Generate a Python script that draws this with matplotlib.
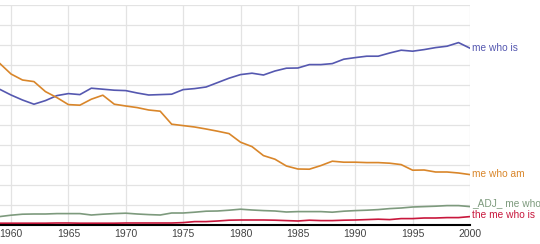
import numpy as np
import matplotlib.pyplot as plt

plt.rcParams['font.family'] = ['Liberation Sans', 'DejaVu Sans']

years = list(range(1959, 2001))

me_who_is = [6.79, 6.50, 6.25, 6.04, 6.22, 6.47, 6.57, 6.52, 6.84, 6.79,
             6.74, 6.72, 6.60, 6.50, 6.52, 6.54, 6.77, 6.82, 6.90, 7.12,
             7.34, 7.52, 7.59, 7.50, 7.70, 7.84, 7.85, 8.02, 8.02, 8.07,
             8.29, 8.37, 8.44, 8.44, 8.60, 8.74, 8.69, 8.77, 8.87, 8.94,
             9.12, 8.84]

me_who_am = [8.09, 7.55, 7.25, 7.17, 6.67, 6.37, 6.02, 5.99, 6.29, 6.49,
             6.04, 5.95, 5.87, 5.75, 5.69, 5.04, 4.97, 4.90, 4.80, 4.69,
             4.57, 4.14, 3.92, 3.47, 3.29, 2.95, 2.80, 2.79, 2.97, 3.19,
             3.14, 3.14, 3.12, 3.12, 3.09, 3.02, 2.74, 2.75, 2.65, 2.65,
             2.60, 2.52]

adj_me_who = [0.42, 0.49, 0.54, 0.55, 0.55, 0.57, 0.57, 0.57, 0.50, 0.54,
              0.57, 0.59, 0.55, 0.52, 0.50, 0.60, 0.60, 0.64, 0.69, 0.70,
              0.74, 0.79, 0.75, 0.72, 0.70, 0.65, 0.67, 0.67, 0.67, 0.64,
              0.69, 0.72, 0.74, 0.77, 0.82, 0.85, 0.90, 0.92, 0.94, 0.97,
              0.97, 0.92]

the_me_who_is = [0.09, 0.09, 0.09, 0.09, 0.09, 0.10, 0.10, 0.09, 0.09, 0.09,
                 0.09, 0.10, 0.10, 0.10, 0.10, 0.10, 0.12, 0.17, 0.17, 0.20,
                 0.24, 0.25, 0.25, 0.25, 0.24, 0.22, 0.20, 0.24, 0.22, 0.22,
                 0.24, 0.25, 0.27, 0.29, 0.27, 0.32, 0.32, 0.35, 0.35, 0.37,
                 0.37, 0.42]

series = [
    ("me who is", me_who_is, "#5558b0"),
    ("me who am", me_who_am, "#d9862a"),
    ("_ADJ_ me who", adj_me_who, "#7d9a7d"),
    ("the me who is", the_me_who_is, "#c8173c"),
]
label_shift = [0.5, 0.5, 2.5, 0.8]

fig = plt.figure(figsize=(5.4, 2.44), dpi=100)
ax = fig.add_axes([0.0, 1 - 225 / 244, 470 / 540, 220 / 244])

for (name, vals, col), dy in zip(series, label_shift):
    ax.plot(years, vals, color=col, lw=1.2, zorder=3)
    ax.annotate(name, xy=(years[-1], vals[-1]), xytext=(1.5, dy),
                textcoords="offset points", color=col, fontsize=7.3,
                va="center", ha="left", annotation_clip=False)

ax.set_xlim(1959.04, 2000)
ax.set_ylim(0, 11)
ax.set_xticks(range(1960, 2001, 5))
ax.set_yticks(np.arange(0, 12, 1))
ax.set_yticklabels([])
ax.grid(True, color="#e3e3e3", lw=0.9)
ax.tick_params(axis="y", length=0)
ax.tick_params(axis="x", length=0, labelsize=7.5, colors="#444444", pad=3)

for s in ["left", "top", "right"]:
    ax.spines[s].set_visible(False)
ax.spines["bottom"].set_color("black")
ax.spines["bottom"].set_linewidth(1.5)
ax.spines["bottom"].set_zorder(4)

fig.savefig("out.png", dpi=100)
